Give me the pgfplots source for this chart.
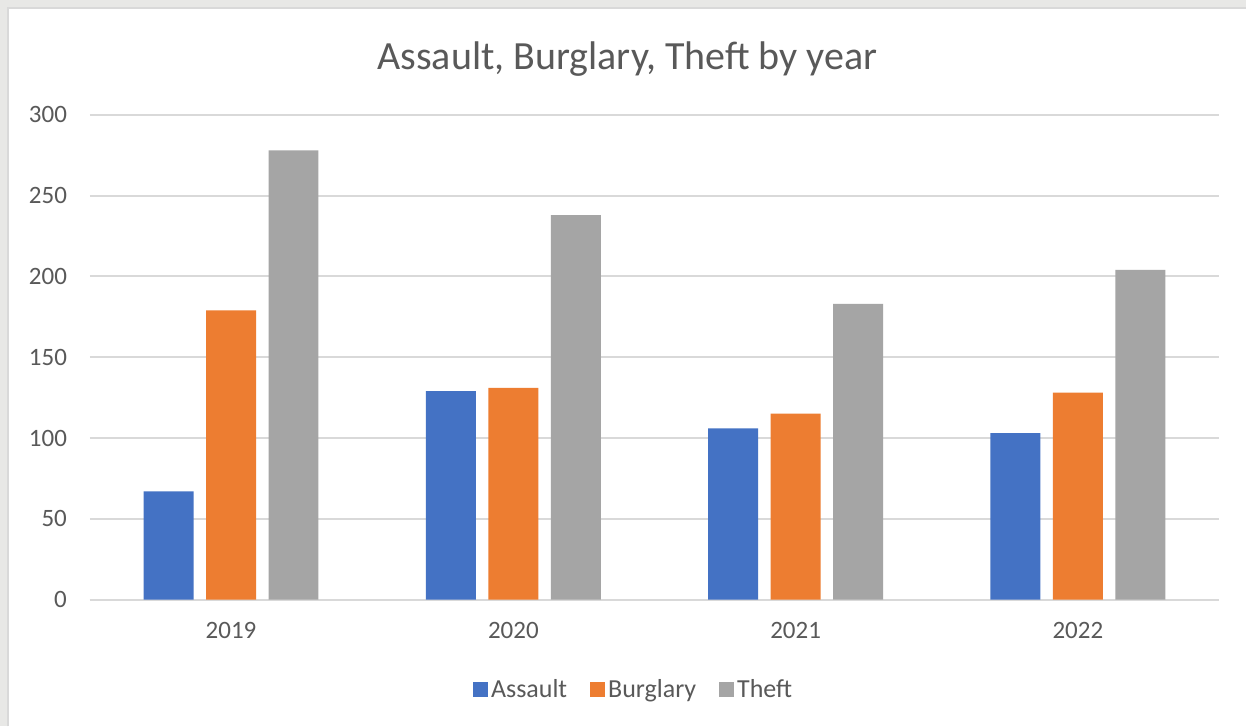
\documentclass[border=0pt]{standalone}
\usepackage{pgfplots}
\pgfplotsset{compat=1.18}
\usepackage{fontspec}
\setmainfont{Carlito}

\definecolor{txt}{HTML}{595959}
\definecolor{gridc}{HTML}{D9D9D9}
\definecolor{cA}{HTML}{4472C4}
\definecolor{cB}{HTML}{ED7D31}
\definecolor{cT}{HTML}{A5A5A5}
\definecolor{bgc}{HTML}{E8E8E6}

\begin{document}
\begin{tikzpicture}
% page = 1247 x 727 px at 0.5bp per px
\fill[bgc] (0,0) rectangle (623.5bp,363.5bp);
\fill[white] (4bp,0) rectangle (623.5bp,359.5bp);
\draw[gridc, line width=1bp] (4bp,0) -- (4bp,359.5bp) -- (623.5bp,359.5bp);

\node[text=txt, font=\fontsize{20bp}{24bp}\selectfont] at (314bp,334bp) {Assault, Burglary, Theft by year};

\begin{axis}[
    at={(45bp,63.5bp)}, anchor=south west,
    scale only axis,
    width=565bp, height=242.5bp,
    ybar=6.25bp, bar width=25bp,
    xmin=-0.5, xmax=3.5,
    ymin=0, ymax=300,
    xtick={0,1,2,3},
    xticklabels={2019,2020,2021,2022},
    ytick={0,50,...,300},
    /pgf/number format/assume math mode=true,
    major tick length=0pt,
    axis x line*=bottom,
    axis y line*=left,
    y axis line style={draw=none},
    x axis line style={gridc, line width=1bp},
    ymajorgrids,
    grid style={gridc, line width=1bp},
    tick label style={text=txt, font=\fontsize{12.5bp}{14bp}\selectfont},
    xticklabel style={yshift=-8bp},
    yticklabel style={anchor=east, xshift=-8bp},
    legend style={at={(0.482,-0.186)}, anchor=center, draw=none,
        font=\fontsize{13bp}{15bp}\selectfont, text=txt,
        legend columns=3, column sep=0bp,
        nodes={inner sep=1.5bp},
        /tikz/every even column/.append style={column sep=10bp}},
    legend image code/.code={\fill[#1] (0bp,-3.75bp) rectangle (7.5bp,3.75bp);},
]
\addplot[fill=cA, draw=none] coordinates {(0,67) (1,129) (2,106) (3,103)};
\addlegendentry{Assault}
\addplot[fill=cB, draw=none] coordinates {(0,179) (1,131) (2,115) (3,128)};
\addlegendentry{Burglary}
\addplot[fill=cT, draw=none] coordinates {(0,278) (1,238) (2,183) (3,204)};
\addlegendentry{Theft}
\end{axis}
\end{tikzpicture}
\end{document}
